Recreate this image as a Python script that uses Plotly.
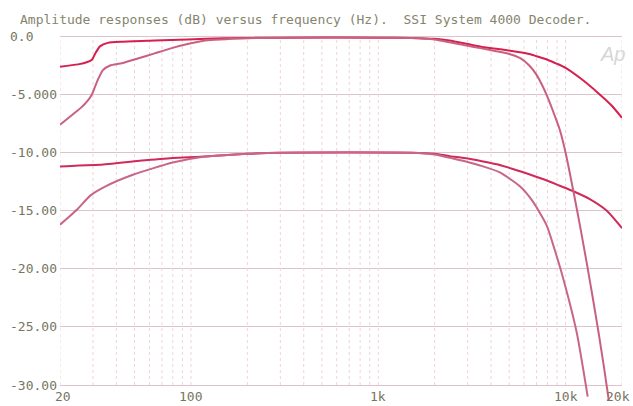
import math
import plotly.graph_objects as go

# Frequency response curves of the decoder (frequency in Hz, level in dB)
freq_a = [20, 25, 28, 29.6, 31, 32.7, 36, 43, 64, 96, 150, 300, 1000, 1500, 2000, 2400,
          3000, 3600, 4500, 5700, 6400, 7000, 8000, 9000, 10000, 12000, 15000, 17500,
          20000]
db_a = [-2.6, -2.4, -2.2, -2.0, -1.4, -0.85, -0.55, -0.45, -0.35, -0.25, -0.15, -0.1,
        -0.1, -0.12, -0.2, -0.35, -0.65, -0.9, -1.1, -1.35, -1.5, -1.7, -2.0, -2.35,
        -2.7, -3.6, -4.9, -5.9, -7.0]

freq_b = [20, 23.2, 26, 28.2, 29.6, 31.5, 33.9, 37, 42.8, 52, 64, 79, 96, 119, 200,
          300, 1500, 2000, 2400, 3000, 3500, 4200, 5000, 5700, 6400, 7000, 7500, 8000,
          8600, 9300, 10000, 11000, 12000, 13000, 14000, 15000, 16000, 17000]
db_b = [-7.6, -6.75, -6.1, -5.5, -5.0, -3.9, -2.9, -2.5, -2.3, -1.9, -1.45, -1.0,
        -0.65, -0.35, -0.15, -0.1, -0.12, -0.25, -0.5, -0.8, -1.0, -1.25, -1.5, -1.85,
        -2.5, -3.3, -4.2, -5.2, -6.5, -8.0, -10.0, -13.3, -16.5, -19.6, -22.6, -25.5,
        -28.4, -31.3]

freq_c = [20, 25, 32.7, 53, 80, 112, 200, 300, 1500, 2000, 2410, 3000, 3490, 4300,
          5230, 6500, 7940, 9300, 10920, 13460, 16600, 20000]
db_c = [-11.2, -11.1, -11.05, -10.7, -10.45, -10.35, -10.1, -10.0, -10.0, -10.1, -10.3,
        -10.5, -10.7, -11.0, -11.4, -11.9, -12.4, -12.85, -13.3, -14.0, -15.0, -16.5]

freq_d = [20, 25, 29, 35, 49, 80, 112, 200, 300, 1500, 2000, 2410, 3000, 3490, 4456,
          5700, 6680, 7940, 8760, 9660, 11470, 13120]
db_d = [-16.2, -14.8, -13.7, -12.9, -11.9, -10.85, -10.4, -10.1, -10.0, -10.0, -10.15,
        -10.45, -10.8, -11.1, -11.7, -12.9, -14.2, -16.3, -18.4, -20.7, -25.5, -31.0]

# Axis ticks
y_ticks = [0, -5, -10, -15, -20, -25, -30]
y_tick_text = ["0.0\u00a0\u00a0\u00a0", "-5.000", "-10.00", "-15.00", "-20.00",
               "-25.00", "-30.00"]
x_ticks = [20, 100, 1000, 10000, 20000]
x_tick_text = ["20", "100", "1k", "10k", "20k"]
x_grid = ([20, 30, 40, 50, 60, 70, 80, 90] + [100 * k for k in range(1, 10)]
          + [1000 * k for k in range(1, 10)] + [10000, 20000])

TEXT_FONT = "DejaVu Sans Mono"
LABEL_COLOR = "#76765f"

fig = go.Figure()

# Dotted vertical grid spanning the -30..0 dB window
gx, gy = [], []
for f in x_grid:
    gx += [f, f, None]
    gy += [-30, 0, None]
fig.add_trace(go.Scatter(x=gx, y=gy, mode="lines",
                         line=dict(color="#efd3da", width=1, dash="dot"),
                         hoverinfo="skip"))

curves = [
    (freq_c, db_c, "#cf2a5a"),
    (freq_d, db_d, "#c8668a"),
    (freq_a, db_a, "#d61f4f"),
    (freq_b, db_b, "#c9607f"),
]
for fx, fy, col in curves:
    fig.add_trace(go.Scatter(x=fx, y=fy, mode="lines",
                             line=dict(color=col, width=2, shape="spline",
                                       smoothing=0.6)))

annotations = []
for f, t in zip(x_ticks, x_tick_text):
    shift = 3 if f == 20 else (-4 if f == 20000 else 0)
    annotations.append(dict(x=math.log10(f), y=-30, xref="x", yref="y", text=t,
                            showarrow=False, yanchor="top", xanchor="center",
                            xshift=shift, yshift=-2,
                            font=dict(family=TEXT_FONT, size=13, color=LABEL_COLOR)))
annotations.append(dict(x=math.log10(17800), y=-1.5, xref="x", yref="y",
                        text="<i>Ap</i>", showarrow=False,
                        font=dict(family="Liberation Sans", size=20, color="#d6d6d6")))

fig.update_layout(
    width=633, height=406,
    margin=dict(l=60, r=11, t=33, b=0),
    paper_bgcolor="white", plot_bgcolor="white",
    showlegend=False,
    title=dict(text="Amplitude responses (dB) versus frequency (Hz).\u00a0\u00a0"
                    "SSI System 4000 Decoder.",
               x=20 / 633, xanchor="left", xref="container",
               y=1 - 19 / 406, yanchor="middle", yref="container",
               font=dict(family=TEXT_FONT, size=13, color="#85856c")),
    annotations=annotations,
)
fig.update_xaxes(type="log", range=[math.log10(20), math.log10(20000)],
                 showgrid=False, zeroline=False, showline=False,
                 showticklabels=False, ticks="")
fig.update_yaxes(range=[-31.808, 0.301], tickvals=y_ticks, ticktext=y_tick_text,
                 showgrid=True, gridcolor="#dcc4ca", gridwidth=1.2,
                 zeroline=False, showline=False, ticks="",
                 ticklabelstandoff=2,
                 tickfont=dict(family=TEXT_FONT, size=13, color=LABEL_COLOR))

fig.write_html("out.html")
